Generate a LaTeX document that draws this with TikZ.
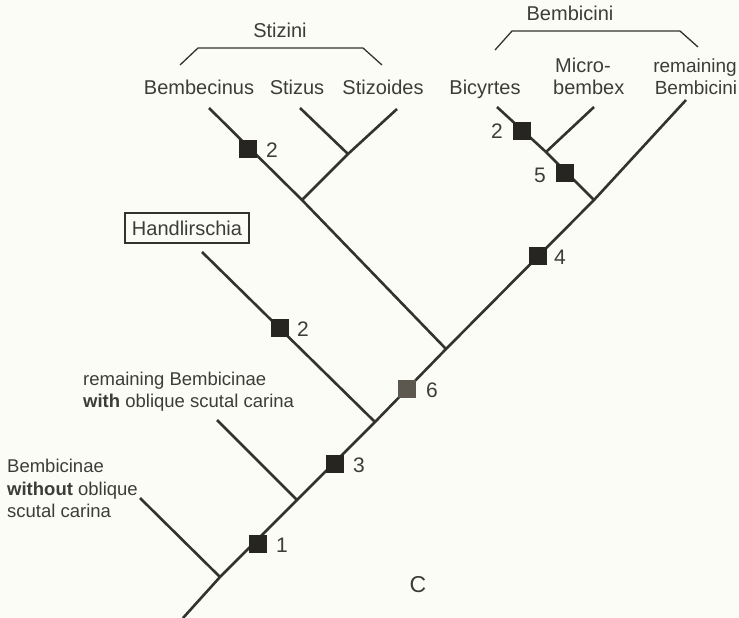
\documentclass[tikz,border=0pt]{standalone}
\usepackage{fontspec}
\setmainfont{Liberation Sans}
\definecolor{bgC}{RGB}{252,252,247}
\definecolor{lineC}{RGB}{52,50,46}
\definecolor{markC}{RGB}{38,37,34}
\definecolor{markL}{RGB}{92,88,80}
\definecolor{textC}{RGB}{60,60,58}
\begin{document}
\begin{tikzpicture}[x=1pt,y=-1pt,
  branch/.style={draw=lineC,line width=2.6pt},
  brack/.style={draw=lineC,line width=1.3pt},
  mk/.style={fill=markC,minimum size=18pt,inner sep=0pt,draw=none,shape=rectangle},
  mkl/.style={mk,fill=markL},
  num/.style={text=textC,font=\fontsize{21}{24}\selectfont,inner sep=0pt},
  taxon/.style={text=textC,font=\fontsize{20}{24}\selectfont,inner sep=0pt,anchor=base},
  side/.style={text=textC,font=\fontsize{18.5}{22}\selectfont,inner sep=0pt,anchor=base west}]
\fill[bgC] (0,0) rectangle (739,618);
\useasboundingbox (0,0) rectangle (739,618);
% trunk coordinates
\coordinate (root) at (183,618);
\coordinate (n1) at (220,577);
\coordinate (n2) at (297,500);
\coordinate (n3) at (375,422);
\coordinate (n4) at (446,349);
\coordinate (n5) at (594,200);
\coordinate (tRB) at (686,100);
% tips and inner nodes
\coordinate (tWO) at (140,498);
\coordinate (tWI) at (217,420);
\coordinate (tHa) at (202,252);
\coordinate (tBe) at (209,108);
\coordinate (sA) at (302,200);
\coordinate (sB) at (348,154);
\coordinate (tSz) at (300,108);
\coordinate (tSo) at (397,109);
\coordinate (bA) at (546,152);
\coordinate (tBi) at (497,107);
\coordinate (tMi) at (594,107);
% branches
\draw[branch] (root) -- (n1) -- (n2) -- (n3) -- (n4) -- (n5) -- (tRB);
\draw[branch] (n1) -- (tWO);
\draw[branch] (n2) -- (tWI);
\draw[branch] (n3) -- (tHa);
\draw[branch] (n4) -- (sA) -- (tBe);
\draw[branch] (sA) -- (sB) -- (tSo);
\draw[branch] (sB) -- (tSz);
\draw[branch] (n5) -- (bA) -- (tBi);
\draw[branch] (bA) -- (tMi);
% markers
\node[mk] (m1) at (258,544) {};
\node[mk] (m3) at (335,464) {};
\node[mk] (m2h) at (280,328) {};
\node[mkl] (m6) at (407,389) {};
\node[mk] (m2s) at (248,149) {};
\node[mk] (m4) at (538,256) {};
\node[mk] (m5) at (565,173) {};
\node[mk] (m2b) at (522,131) {};
\node[num] (l1) at (282,545) {1};
\node[num] (l3) at (359,465) {3};
\node[num] (l2h) at (303,329) {2};
\node[num] (l6) at (432,390) {6};
\node[num] (l2s) at (272,150) {2};
\node[num] (l4) at (560,257) {4};
\node[num] (l5) at (540,175) {5};
\node[num] (l2b) at (497,131) {2};
% taxon labels
\node[taxon] (Bec) at (199,95) {Bembecinus};
\node[taxon] (Stz) at (297,95) {Stizus};
\node[taxon] (Sto) at (383,95) {Stizoides};
\node[taxon] (Stini) at (280,38) {Stizini};
\node[taxon] (Bicy) at (485,95) {Bicyrtes};
\node[taxon,anchor=base west] (Mic1) at (555,73) {Micro-};
\node[taxon,anchor=base west] (Mic2) at (553,95) {bembex};
\node[taxon,font=\fontsize{19}{22}\selectfont] (rem1) at (695,73) {remaining};
\node[taxon,font=\fontsize{19}{22}\selectfont] (rem2) at (696,95) {Bembicini};
\node[taxon] (Bini) at (570,21) {Bembicini};
\node[text=textC,font=\fontsize{20}{24}\selectfont,draw=lineC,line width=1.2pt,
  minimum width=124pt,minimum height=30pt,inner sep=0pt] (Hand) at (187,228) {Handlirschia};
\node[side] (rw1) at (83,385) {remaining Bembicinae};
\node[side] (rw2) at (83,407) {\textbf{with} oblique scutal carina};
\node[side] (wo1) at (7,472) {Bembicinae};
\node[side] (wo2) at (7,495) {\textbf{without} oblique};
\node[side] (wo3) at (7,517) {scutal carina};
\node[text=textC,font=\fontsize{23}{26}\selectfont,inner sep=0pt] (C) at (418,585) {C};
% brackets
\coordinate (sb1) at (180,65);
\coordinate (sb2) at (198,48);
\coordinate (sb3) at (363,48);
\coordinate (sb4) at (382,65);
\draw[brack] (sb1) -- (sb2) -- (sb3) -- (sb4);
\coordinate (bb1) at (495,50);
\coordinate (bb2) at (512,31);
\coordinate (bb3) at (680,31);
\coordinate (bb4) at (698,47);
\draw[brack] (bb1) -- (bb2) -- (bb3) -- (bb4);
\end{tikzpicture}
\end{document}
